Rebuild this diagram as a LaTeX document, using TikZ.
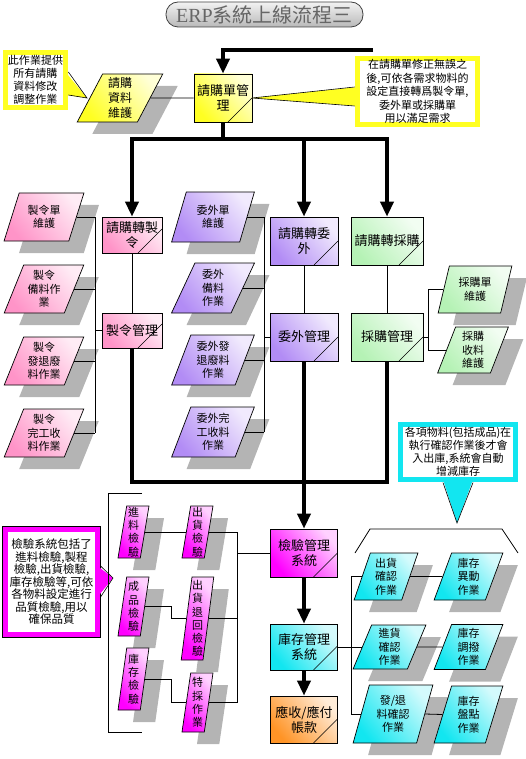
\documentclass[tikz,border=0pt]{standalone}
\usepackage{fontspec}
\setmainfont{Noto Sans CJK TC}
\newfontfamily\titlerm{Liberation Serif}
\usetikzlibrary{arrows.meta,shapes.geometric,shadows}

\definecolor{ylw}{HTML}{FFFF22}
\definecolor{pnk}{HTML}{FF94C8}
\definecolor{vio}{HTML}{B28CF5}
\definecolor{grn}{HTML}{B5F2B5}
\definecolor{mgt}{HTML}{FF00FF}
\definecolor{cyn}{HTML}{12E6F0}
\definecolor{org}{HTML}{FF9426}
\definecolor{shd}{HTML}{B4B4B4}

\tikzset{
  fat/.style={line width=3.5pt},
  fatarrow/.style={fat, -{Triangle[length=15pt,width=13pt]}},
  conn/.style={line width=0.8pt},
  tint/.style={bottom color=#1, top color=#1!18!white, shading angle=-50},
  mbox/.style={draw, line width=0.7pt, tint=#1, inner sep=0pt, align=center,
    font=\fontsize{13}{15}\selectfont,
    path picture={\draw[line width=0.6pt]
      ([xshift=-24pt]path picture bounding box.south east) --
      ([yshift=24pt]path picture bounding box.south east);}},
  para/.style={trapezium, trapezium stretches=true, draw, line width=0.7pt,
    inner sep=0pt, align=center, font=\fontsize{11}{13.5}\selectfont,
    general shadow={fill=shd, shadow xshift=15pt, shadow yshift=-12pt}},
  ylwpara/.style={para, tint=ylw, trapezium left angle=67, trapezium right angle=113,
    minimum width=86pt, minimum height=48pt, font=\fontsize{12}{15}\selectfont},
  pinkpara/.style={para, tint=pnk, trapezium left angle=67, trapezium right angle=113,
    minimum width=80pt, minimum height=48pt},
  viopara/.style={para, tint=vio, trapezium left angle=69, trapezium right angle=111,
    minimum width=83pt, minimum height=50pt},
  grnpara/.style={para, tint=grn, trapezium left angle=73, trapezium right angle=107,
    minimum height=47pt},
  magpara/.style={para, tint=mgt, trapezium left angle=82, trapezium right angle=98,
    minimum width=31pt, font=\fontsize{11}{13.3}\selectfont},
  cynpara/.style={para, tint=cyn, trapezium left angle=73, trapezium right angle=107},
  note/.style={draw=#1, line width=4.5pt, fill=white, inner sep=0pt, align=center,
    preaction={draw=black, line width=5.7pt}, font=\fontsize{11}{12.8}\selectfont},
  titlebox/.style={draw=black!75, line width=0.8pt, rounded corners=12pt,
    top color=gray!10, bottom color=gray!55, text=black!60,
    minimum width=197pt, minimum height=25pt, inner sep=0pt,
    font=\fontsize{20}{22}\selectfont}
}

\begin{document}
\begin{tikzpicture}[x=1pt, y=-1pt]
    \useasboundingbox (0,0) rectangle (526,759);

    % Title
    \node[titlebox] (title) at (264.5,14.5) {{\titlerm ERP}系統上線流程三};

    % Data entry parallelograms
    \node[ylwpara] (dataA) at (120,98) {請購\\資料\\維護};

    \node[pinkpara] (moA) at (44,217) {製令單\\維護};
    \node[pinkpara] (moB) at (44,289) {製令\\備料作\\業};
    \node[pinkpara] (moC) at (44,361) {製令\\發退廢\\料作業};
    \node[pinkpara] (moD) at (44,433) {製令\\完工收\\料作業};

    \node[viopara] (subA) at (213,217) {委外單\\維護};
    \node[viopara] (subB) at (213,288) {委外\\備料\\作業};
    \node[viopara] (subC) at (213,360) {委外發\\退廢料\\作業};
    \node[viopara] (subD) at (213,432) {委外完\\工收料\\作業};

    \node[grnpara, minimum width=74pt] (purA) at (475,289.5) {採購單\\維護};
    \node[grnpara, minimum width=71pt, minimum height=46pt] (purB) at (473,350) {採購\\收料\\維護};

    \node[magpara, minimum height=52pt] (qa1) at (133.5,532) {進\\料\\檢\\驗};
    \node[magpara, minimum height=59pt] (qa2) at (133.5,606.5) {成\\品\\檢\\驗};
    \node[magpara, minimum height=62pt] (qa3) at (133.5,679) {庫\\存\\檢\\驗};
    \node[magpara, minimum height=52pt] (qb1) at (197.5,532) {出\\貨\\檢\\驗};
    \node[magpara, minimum height=83pt] (qb2) at (197.5,618.5) {出\\貨\\退\\回\\檢\\驗};
    \node[magpara, minimum height=59pt] (qb3) at (197.5,702.5) {特\\採\\作\\業};

    \node[cynpara, minimum width=64pt, minimum height=47pt] (ciA) at (386,576.5) {出貨\\確認\\作業};
    \node[cynpara, minimum width=73pt, minimum height=44pt] (ciB) at (389.5,647) {進貨\\確認\\作業};
    \node[cynpara, minimum width=80pt, minimum height=58pt] (ciC) at (393,714) {發/退\\料確認\\作業};
    \node[cynpara, minimum width=69pt, minimum height=47pt] (cjA) at (468.5,576.5) {庫存\\異動\\作業};
    \node[cynpara, minimum width=69pt, minimum height=45pt] (cjB) at (468.5,647) {庫存\\調撥\\作業};
    \node[cynpara, minimum width=69pt, minimum height=57pt] (cjC) at (468.5,714.5) {庫存\\盤點\\作業};

    % Process boxes
    \node[mbox=ylw, minimum width=58pt, minimum height=48pt] (req) at (223,98) {請購單管\\理};
    \node[mbox=pnk, minimum width=60pt, minimum height=36pt] (mo1) at (132,235) {請購轉製\\令};
    \node[mbox=pnk, minimum width=60pt, minimum height=35pt] (mo2) at (132,330.5) {製令管理};
    \node[mbox=vio, minimum width=68pt, minimum height=48pt] (sub1) at (304,241) {請購轉委\\外};
    \node[mbox=vio, minimum width=68pt, minimum height=48pt] (sub2) at (304,337) {委外管理};
    \node[mbox=grn, minimum width=72pt, minimum height=48pt] (pur1) at (387,241) {請購轉採購};
    \node[mbox=grn, minimum width=72pt, minimum height=48pt] (pur2) at (387,337) {採購管理};
    \node[mbox=mgt, minimum width=67pt, minimum height=48pt] (qc) at (304,553) {檢驗管理\\系統};
    \node[mbox=cyn, minimum width=67pt, minimum height=46pt] (inv) at (304,647) {庫存管理\\系統};
    \node[mbox=org, minimum width=67pt, minimum height=47pt] (ar) at (304,719.5) {應收/應付\\帳款};

    % Callouts
    \node[note=ylw, minimum width=60pt, minimum height=55pt] (noteReq) at (35.5,80)
      {此作業提供\\所有請購\\資料修改\\調整作業};
    \node[note=ylw, minimum width=120pt, minimum height=66pt, font=\fontsize{11}{13.5}\selectfont]
      (noteConv) at (417.5,91.5)
      {在請購單修正無誤之\\後,可依各需求物料的\\設定直接轉爲製令單,\\委外單或採購單\\用以滿足需求};
    \node[note=mgt, line width=5pt, preaction={draw=black, line width=6.2pt},
      minimum width=92pt, minimum height=105pt, font=\fontsize{11.5}{12.5}\selectfont]
      (noteQC) at (51.5,582)
      {檢驗系統包括了\\進料檢驗,製程\\檢驗,出貨檢驗,\\庫存檢驗等,可依\\各物料設定進行\\品質檢驗,用以\\確保品質};
    \node[note=cyn, minimum width=115pt, minimum height=55pt, font=\fontsize{11}{13}\selectfont]
      (noteInv) at (458,452)
      {各項物料(包括成品)在\\執行確認作業後才會\\入出庫,系統會自動\\增減庫存};

    % Callout pointers
    \fill[ylw] (65.5,72) -- (87,98) -- (65.5,95) -- cycle;
    \draw[line width=0.6pt] (68.4,72) -- (87,98) -- (68.4,95);
    \fill[ylw] (357.5,87) -- (252,98) -- (357.5,106) -- cycle;
    \draw[line width=0.6pt] (354.6,87) -- (252,98) -- (354.6,106);
    \fill[mgt] (97.5,566) -- (113,578) -- (97.5,597) -- cycle;
    \draw[line width=0.6pt] (100.6,566) -- (113,578) -- (100.6,597);
    \fill[cyn] (443,479.5) -- (457,523) -- (473,479.5) -- cycle;
    \draw[line width=0.6pt] (443,482.6) -- (457,523) -- (473,482.6);

    % Main flow
    \coordinate (topR) at (373,50);
    \coordinate (split) at (223,139);
    \coordinate (join) at (304,482);
    \draw[fatarrow] (topR) -| (req);
    \draw[fat] (req) -- (split);
    \draw[fatarrow] (split) -| (mo1);
    \draw[fatarrow] (split) -| (sub1);
    \draw[fatarrow] (split) -| (pur1);
    \draw[conn] (mo1) -- (mo2);
    \draw[conn] (sub1) -- (sub2);
    \draw[conn] (pur1) -- (pur2);
    \draw[fat] (mo2) |- (join);
    \draw[fat] (pur2) |- (join);
    \draw[fatarrow] (sub2) -- (qc);
    \draw[fatarrow] (qc) -- (inv);
    \draw[fatarrow] (inv) -- (ar);

    \draw[conn] (dataA.east) -- (req.west);

    % Work order bus
    \coordinate (pbT) at (95,217);
    \coordinate (pbB) at (95,433);
    \draw[conn] (pbT) -- (pbB);
    \foreach \n in {moA,moB,moC,moD}
        \draw[conn] (\n.east) -- (\n.east -| pbT);
    \draw[conn] (mo2.west) -- (mo2.west -| pbT);

    % Subcontract bus
    \coordinate (vbT) at (264,217);
    \coordinate (vbB) at (264,432);
    \draw[conn] (vbT) -- (vbB);
    \foreach \n in {subA,subB,subC,subD}
        \draw[conn] (\n.east) -- (\n.east -| vbT);
    \draw[conn] (sub2.west) -- (sub2.west -| vbT);

    % Purchase bus
    \coordinate (gbT) at (428,289.5);
    \coordinate (gbB) at (428,350);
    \draw[conn] (gbT) -- (gbB);
    \foreach \n in {purA,purB}
        \draw[conn] (\n.west) -- (\n.west -| gbT);
    \draw[conn] (pur2.east) -- (pur2.east -| gbT);

    % Inspection group
    \draw[conn] (142,493) -- (108,493) -- (108,732) -- (142,732);
    \draw[conn] (qa1.east) -- (qb1.west);
    \draw[conn] (qa2.east) -- ++(26,0) |- (qb2.west);
    \draw[conn] (qa3.east) -- ++(26,0) |- (qb3.west);
    \coordinate (mbT) at (237,532);
    \coordinate (mbB) at (237,702.5);
    \draw[conn] (mbT) -- (mbB);
    \foreach \n in {qb1,qb2,qb3}
        \draw[conn] (\n.east) -- (\n.east -| mbT);
    \draw[conn] (qc.west) -- (qc.west -| mbT);

    % Inventory group
    \draw[conn] (355,553) -- (370,529) -- (502,529) -- (518,553);
    \coordinate (cbT) at (351,576.5);
    \coordinate (cbB) at (351,714);
    \draw[conn] (cbT) -- (cbB);
    \foreach \n in {ciA,ciB,ciC}
        \draw[conn] (\n.west) -- (\n.west -| cbT);
    \draw[conn] (inv.east) -- (inv.east -| cbT);
    \draw[conn] (ciA.east) -- (cjA.west);
    \draw[conn] (ciB.east) -- (cjB.west);
    \draw[conn] (ciC.east) -- (cjC.west);
\end{tikzpicture}
\end{document}
